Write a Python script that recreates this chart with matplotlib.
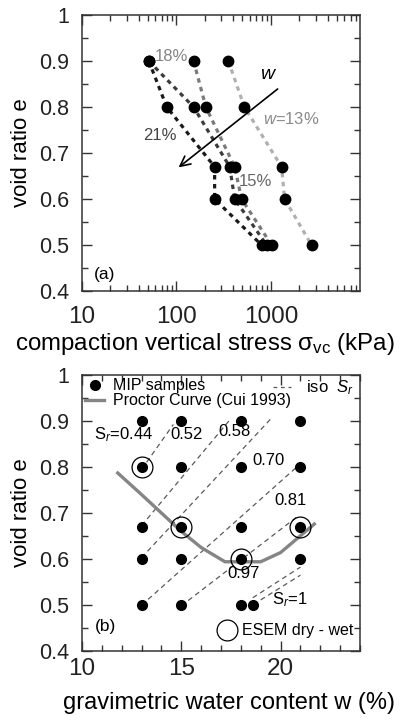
import matplotlib
matplotlib.use("Agg")
import matplotlib.pyplot as plt
import numpy as np
from matplotlib.lines import Line2D
from matplotlib.ticker import MultipleLocator, LogLocator, NullFormatter

plt.rcParams['font.family'] = ['Liberation Sans', 'DejaVu Sans']
plt.rcParams['mathtext.fontset'] = 'custom'
plt.rcParams['mathtext.rm'] = 'Liberation Sans'
plt.rcParams['mathtext.it'] = 'Liberation Sans:italic'

# ---- panel (a): compaction curves by water content ----
e_levels = [0.9, 0.8, 0.67, 0.6, 0.5]
stress_w21 = [51, 79, 254, 254, 797]
stress_w18 = [51, 152, 367, 414, 903]
stress_w15 = [152, 205, 414, 490, 1020]
stress_w13 = [355, 525, 1300, 1400, 2700]
series_a = [stress_w21, stress_w18, stress_w15, stress_w13]
colors_a = ['#1a1a1a', '#3c3c3c', '#7a7a7a', '#b0b0b0']

# ---- panel (b): MIP samples, Proctor curve, iso-Sr lines ----
mip_w = [13, 13, 13, 13, 13, 15, 15, 15, 15, 15, 18, 18, 18, 18, 18, 18.6, 21, 21, 21, 21]
mip_e = [0.9, 0.8, 0.67, 0.6, 0.5, 0.9, 0.8, 0.67, 0.6, 0.5, 0.9, 0.8, 0.67, 0.6, 0.5, 0.5,
         0.9, 0.8, 0.67, 0.6]
esem_w = [13, 15, 18, 21]
esem_e = [0.8, 0.67, 0.6, 0.67]
proctor_w = [11.8, 13, 15, 16, 17.2, 19, 20, 21.7]
proctor_e = [0.787, 0.74, 0.66, 0.625, 0.594, 0.594, 0.614, 0.676]
Gs = 2.69
sr_values = [0.44, 0.52, 0.58, 0.70, 0.81, 0.97, 1.0]
sr_w_start = [13, 13, 13, 13, 15, 18.6, 19.0]
sr_w_end = [14.6, 17.4, 19.5, 20.9, 20.8, 21.0, 21.0]

fig = plt.figure(figsize=(4.07, 7.23), dpi=100)
ax1 = fig.add_axes([0.2015, 0.5975, 0.683, 0.3817])
ax2 = fig.add_axes([0.2015, 0.0996, 0.683, 0.3817])

fs_xtick = 17.5
fs_ytick = 15.5
fs_ylab = 16
fs_ann = 12

for s, c in zip(series_a, colors_a):
    ax1.plot(s, e_levels, color=c, lw=2.3, dashes=(1.4, 1.4), zorder=2)
for s in series_a:
    ax1.plot(s, e_levels, 'o', color='black', ms=7.5, zorder=3)

ax1.annotate('', xy=(100, 0.665), xytext=(1245, 0.843),
             arrowprops=dict(arrowstyle='->', color='black', lw=1.2,
                             mutation_scale=18))
ax1.text(89, 0.909, '18%', color='#858585', fontsize=fs_ann, ha='center', va='center')
ax1.text(66, 0.739, '21%', color='#444444', fontsize=fs_ann, ha='center', va='center')
ax1.text(690, 0.637, '15%', color='#666666', fontsize=fs_ann, ha='center', va='center')
ax1.text(1650, 0.774, '$w$=13%', color='#8a8a8a', fontsize=fs_ann, ha='center', va='center')
ax1.text(950, 0.87, '$w$', color='black', fontsize=14, ha='center', va='center')
ax1.text(17.5, 0.435, '(a)', fontsize=12.5, ha='center', va='center')

ax1.set_xscale('log')
ax1.set_xlim(10, 8800)
ax1.set_ylim(0.4, 1.0)
ax1.set_xticks([10, 100, 1000])
ax1.set_xticklabels(['10', '100', '1000'])
ax1.xaxis.set_minor_locator(LogLocator(base=10, subs=np.arange(2, 10)))
ax1.xaxis.set_minor_formatter(NullFormatter())
ax1.set_xlabel('compaction vertical stress σ$_{\\mathrm{vc}}$ (kPa)', fontsize=17.3)
ax1.xaxis.set_label_coords(0.443, -0.145)

# panel b
for sr, w0, w1 in zip(sr_values, sr_w_start, sr_w_end):
    ww = np.array([w0, w1])
    ax2.plot(ww, Gs * ww / (100 * sr), color='#5a5a5a', lw=0.9, dashes=(4, 3), zorder=1)
ax2.plot(proctor_w, proctor_e, color='#858585', lw=2.4, zorder=2)
ax2.plot(mip_w, mip_e, 'o', color='black', ms=7, zorder=3)
ax2.plot(esem_w, esem_e, 'o', mfc='none', mec='black', mew=0.9, ms=15, zorder=4)

ax2.text(12.1, 0.87, 'S$_r$=0.44', fontsize=fs_ann, ha='center', va='center')
ax2.text(15.25, 0.87, '0.52', fontsize=fs_ann, ha='center', va='center')
ax2.text(17.7, 0.877, '0.58', fontsize=fs_ann, ha='center', va='center')
ax2.text(19.4, 0.815, '0.70', fontsize=fs_ann, ha='center', va='center')
ax2.text(20.5, 0.728, '0.81', fontsize=fs_ann, ha='center', va='center')
ax2.text(18.15, 0.569, '0.97', fontsize=fs_ann, ha='center', va='center')
ax2.text(20.45, 0.511, 'S$_r$=1', fontsize=fs_ann, ha='center', va='center')
ax2.text(11.16, 0.453, '(b)', fontsize=12.5, ha='center', va='center')

h_mip = Line2D([], [], marker='o', color='black', ls='none', ms=7)
h_pro = Line2D([], [], color='#858585', lw=2.4)
h_iso = Line2D([], [], color='#5a5a5a', lw=0.9, dashes=(3, 3))
h_esem = Line2D([], [], marker='o', mfc='none', mec='black', mew=0.9, ls='none', ms=15)
leg1 = ax2.legend([h_mip, h_pro], ['MIP samples', 'Proctor Curve (Cui 1993)'],
                  loc='upper left', frameon=False, fontsize=11.5, handlelength=1.2,
                  handletextpad=0.55, borderaxespad=0.0, labelspacing=0.0, borderpad=0.2)
ax2.add_artist(leg1)
leg2 = ax2.legend([h_iso], ['iso  $S_r$'], loc='upper right', frameon=False, fontsize=12,
                  handlelength=1.1, handletextpad=0.9, borderaxespad=0.0, borderpad=0.2,
                  bbox_to_anchor=(0.99, 1.0))
ax2.add_artist(leg2)
ax2.legend([h_esem], ['ESEM dry - wet'], loc='lower right', frameon=False, fontsize=11.5,
           handlelength=1.0, handletextpad=0.45, borderaxespad=0.0, borderpad=0.3,
           bbox_to_anchor=(0.995, 0.028))

ax2.set_xlim(10, 24)
ax2.set_ylim(0.4, 1.0)
ax2.set_xticks([10, 15, 20])
ax2.xaxis.set_minor_locator(MultipleLocator(1))
ax2.set_xlabel('gravimetric water content w (%)', fontsize=17)
ax2.xaxis.set_label_coords(0.53, -0.15)

for ax in (ax1, ax2):
    ax.set_ylabel('void ratio e', fontsize=fs_ylab, labelpad=5)
    ax.set_yticks([0.4, 0.5, 0.6, 0.7, 0.8, 0.9, 1.0])
    ax.set_yticklabels(['0.4', '0.5', '0.6', '0.7', '0.8', '0.9', '1'])
    ax.yaxis.set_minor_locator(MultipleLocator(0.05))
    ax.tick_params(which='both', direction='in', top=True, right=True, colors='#333333',
                   labelcolor='#222222')
    ax.tick_params(axis='x', labelsize=fs_xtick)
    ax.tick_params(axis='y', labelsize=fs_ytick)
    ax.tick_params(which='major', length=7, width=1.0)
    ax.tick_params(which='minor', length=4, width=1.0)
    ax.tick_params(axis='y', which='major', pad=9)
    for sp in ax.spines.values():
        sp.set_linewidth(1.1)
        sp.set_color('#333333')

ax1.tick_params(axis='x', which='major', pad=11)
ax2.tick_params(axis='x', which='major', pad=5)

fig.savefig('out.png', dpi=100)
